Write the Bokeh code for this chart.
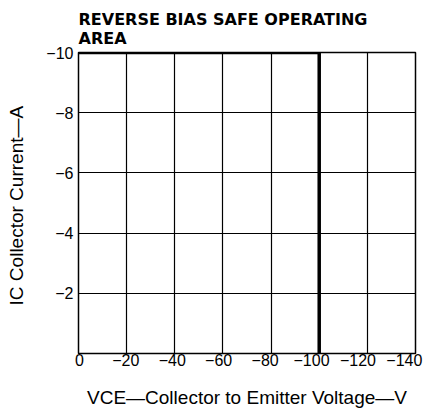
from bokeh.plotting import figure
from bokeh.models import Range1d, FixedTicker, Title, LinearAxis
from bokeh.embed import file_html
from bokeh.resources import INLINE

# RBSOA boundary (V_CE in volts, I_C in amps)
boundary_v = [0, -100, -100]
boundary_i = [-10, -10, 0]

x_ticks = [0, -20, -40, -60, -80, -100, -120, -140]
x_tick_labels = ["0", "\u221220", "\u221240", "\u221260", "\u221280", "\u2212100", "\u2212120", "\u2212140"]
y_ticks = [-2, -4, -6, -8, -10]
y_tick_labels = ["\u22122", "\u22124", "\u22126", "\u22128", "\u221210"]

FONT = "Liberation Sans"

p = figure(width=424, height=411, output_backend="svg", toolbar_location=None,
           x_range=Range1d(0, -140), y_range=Range1d(0, -10),
           x_axis_location=None,
           min_border_left=78, min_border_right=9, min_border_top=52, min_border_bottom=58)
p.title = None
t = Title(text="REVERSE BIAS SAFE OPERATING\nAREA", text_font="DejaVu Sans", text_font_size="16px",
          text_font_style="bold", text_color="black", offset=0, standoff=9)
p.add_layout(t, "above")

# the printed tick labels are crowded slightly to the left of their grid lines;
# a label-only range reproduces that spacing (layout only, data stay on x_range)
p.extra_x_ranges = {"labels": Range1d(0.4, -144.8)}
xax = LinearAxis(x_range_name="labels", ticker=FixedTicker(ticks=x_ticks))
xax.major_label_overrides = dict(zip(x_ticks, x_tick_labels))
p.add_layout(xax, "below")

p.line(boundary_v, boundary_i, line_color="black", line_width=3.5)

p.yaxis.ticker = FixedTicker(ticks=y_ticks)
p.yaxis.major_label_overrides = dict(zip(y_ticks, y_tick_labels))
p.xgrid.ticker = FixedTicker(ticks=x_ticks)
p.ygrid.ticker = FixedTicker(ticks=y_ticks)

for ax in (xax, p.yaxis[0]):
    ax.axis_line_color = None
    ax.major_tick_line_color = None
    ax.minor_tick_line_color = None
    ax.major_tick_out = 0
    ax.major_tick_in = 0
    ax.minor_tick_out = 0
    ax.major_label_text_font = FONT
    ax.major_label_text_font_size = "16px"
    ax.major_label_text_color = "black"
    ax.axis_label_text_font = FONT
    ax.axis_label_text_font_size = "19px"
    ax.axis_label_text_font_style = "normal"
    ax.axis_label_text_color = "black"

xax.axis_label = "VCE\u2014Collector to Emitter Voltage\u2014V"
p.yaxis.axis_label = "IC  Collector Current\u2014A"
xax.major_label_standoff = 0
xax.axis_label_standoff = 18
p.yaxis.major_label_standoff = 5
p.yaxis.axis_label_standoff = 16

p.xgrid.grid_line_color = "black"
p.ygrid.grid_line_color = "black"
p.xgrid.grid_line_width = 1.2
p.ygrid.grid_line_width = 1.2
p.xgrid.grid_line_alpha = 1
p.ygrid.grid_line_alpha = 1
p.outline_line_color = "black"
p.outline_line_width = 1.5
p.outline_line_alpha = 1

open("out.html", "w").write(file_html(p, INLINE))
